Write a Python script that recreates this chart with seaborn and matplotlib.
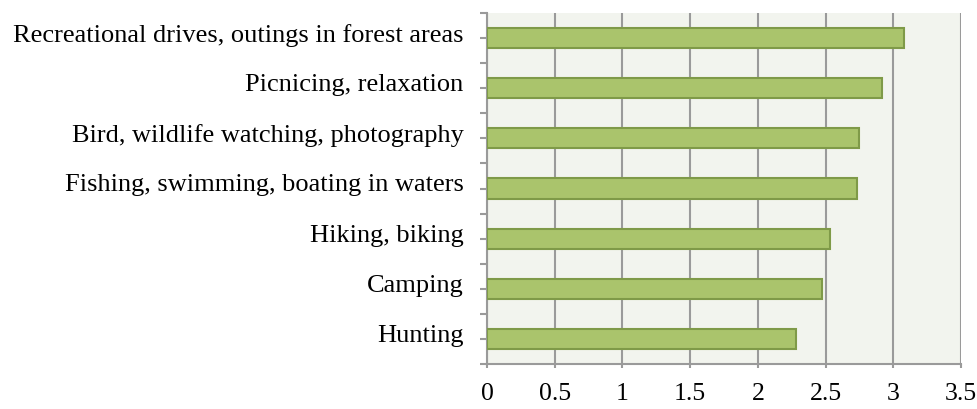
import matplotlib
matplotlib.use("Agg")
import matplotlib.pyplot as plt
import seaborn as sns
import pandas as pd
from matplotlib.ticker import MultipleLocator
from matplotlib.transforms import ScaledTranslation

categories = [
    "Recreational drives, outings in forest areas",
    "Picnicing, relaxation",
    "Bird, wildlife watching, photography",
    "Fishing, swimming, boating in waters",
    "Hiking, biking",
    "Camping",
    "Hunting",
]
values = [3.08, 2.92, 2.75, 2.73, 2.53, 2.47, 2.28]
x_ticks = [0, 0.5, 1, 1.5, 2, 2.5, 3, 3.5]
x_tick_labels = ["0", "0.5", "1", "1.5", "2", "2.5", "3", "3.5"]

df = pd.DataFrame({"activity": categories, "score": values})

sns.set_style("white")
plt.rcParams["font.family"] = ["Liberation Serif", "DejaVu Serif"]

fig = plt.figure(figsize=(9.77, 4.09), dpi=100)
ax = fig.add_axes([487 / 977, 1 - 364 / 409, (961 - 487) / 977, (364 - 13) / 409])
ax.set_facecolor("#F2F4EE")

sns.barplot(data=df, x="score", y="activity", orient="h", ax=ax,
            color="#AAC46C", saturation=1, width=0.4,
            edgecolor="#7F9A48", linewidth=1.5, zorder=3)

ax.set_xlim(0, 3.5)
ax.set_ylim(len(categories) - 0.5, -0.5)
ax.set_xticks(x_ticks)
ax.set_xticklabels(x_tick_labels)
ax.set_xlabel("")
ax.set_ylabel("")

ax.grid(axis="x", color="#9A9A9A", linewidth=1.5, zorder=0)
ax.grid(axis="y", visible=False)
ax.set_axisbelow(True)

for s in ["top", "right"]:
    ax.spines[s].set_visible(False)
for s in ["left", "bottom"]:
    ax.spines[s].set_color("#9A9A9A")
    ax.spines[s].set_linewidth(1.5)

ax.yaxis.set_minor_locator(MultipleLocator(1, offset=0.5))
ax.tick_params(axis="y", which="both", left=True, length=5, width=1.5, color="#9A9A9A")
ax.tick_params(axis="y", which="major", pad=12, labelsize=19, labelcolor="black")
ax.tick_params(axis="x", bottom=True, length=3, width=1.5, color="#9A9A9A", pad=11,
               labelsize=18.5, labelcolor="black")

off = ScaledTranslation(0, 4 / 72, fig.dpi_scale_trans)
for lab in ax.get_yticklabels():
    lab.set_transform(lab.get_transform() + off)

fig.savefig("out.png", dpi=100, facecolor="white")
